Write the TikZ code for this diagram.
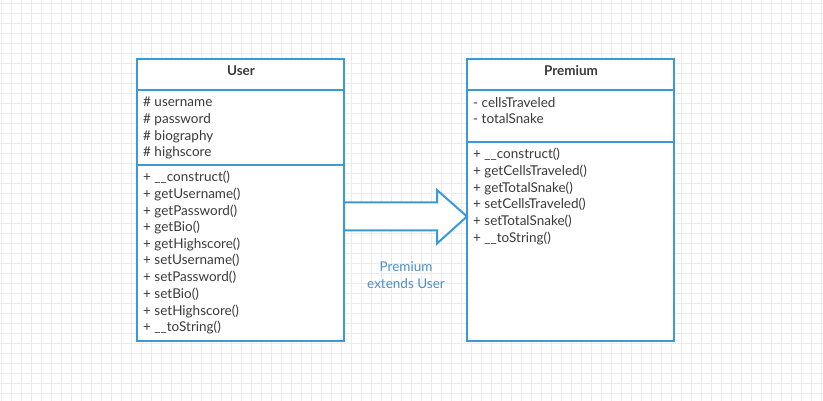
\documentclass[tikz,border=0pt]{standalone}
\usepackage{fontspec}
\setmainfont{Lato}
\definecolor{umlblue}{HTML}{3A9AD9}
\definecolor{lblblue}{HTML}{4A8FC8}
\definecolor{txt}{HTML}{3A3A3A}
\definecolor{gridc}{HTML}{ECECEC}
\tikzset{
  box/.style={draw=umlblue, line width=2pt, fill=white, inner sep=0pt, outer sep=0pt, minimum width=207pt, minimum height=281pt, anchor=north west},
  divider/.style={draw=umlblue, line width=2pt},
  member/.style={anchor=base west, inner sep=0pt, text=txt, font=\fontsize{13.5}{16}\selectfont},
  title/.style={anchor=base, inner sep=0pt, text=txt, font=\fontsize{13.5}{16}\selectfont\bfseries},
  lbl/.style={anchor=base, inner sep=0pt, text=lblblue, font=\fontsize{13.5}{16}\selectfont},
  blockarrow/.style={draw=umlblue, line width=2pt, fill=white, line join=miter}
}
\begin{document}
\begin{tikzpicture}[x=1pt,y=-1pt]
\useasboundingbox (0,0) rectangle (823,401);
\fill[white] (0,0) rectangle (823,401);
% grid
\foreach \gx in {1,11,...,821} \draw[gridc, line width=0.8pt] (\gx,0) -- (\gx,401);
\foreach \gy in {3,13,...,401} \draw[gridc, line width=0.8pt] (0,\gy) -- (823,\gy);

% User class
\node[box] (user) at (137,59.5) {};
\draw[divider] (137,90) coordinate (u1) -- (344,90) coordinate (u1r);
\draw[divider] (137,165) coordinate (u2) -- (344,165) coordinate (u2r);
\node[title] (utitle) at (241,76) {User};
\node[member] (ua1) at (143,107) {\# username};
\node[member] (ua2) at (143,123.7) {\# password};
\node[member] (ua3) at (143,140.3) {\# biography};
\node[member] (ua4) at (143,157) {\# highscore};
\node[member] (um1) at (143,181.7) {+ \_\_construct()};
\node[member] (um2) at (143,198.4) {+ getUsername()};
\node[member] (um3) at (143,215.0) {+ getPassword()};
\node[member] (um4) at (143,231.7) {+ getBio()};
\node[member] (um5) at (143,248.4) {+ getHighscore()};
\node[member] (um6) at (143,265.0) {+ setUsername()};
\node[member] (um7) at (143,281.7) {+ setPassword()};
\node[member] (um8) at (143,298.4) {+ setBio()};
\node[member] (um9) at (143,315.0) {+ setHighscore()};
\node[member] (um10) at (143,331.7) {+ \_\_toString()};

% Premium class
\node[box] (prem) at (467,59.5) {};
\draw[divider] (467,90) coordinate (p1) -- (674,90) coordinate (p1r);
\draw[divider] (467,142) coordinate (p2) -- (674,142) coordinate (p2r);
\node[title] (ptitle) at (571,76) {Premium};
\node[member] (pa1) at (473,107.3) {- cellsTraveled};
\node[member] (pa2) at (473,124) {- totalSnake};
\node[member] (pm1) at (473,159) {+ \_\_construct()};
\node[member] (pm2) at (473,175.7) {+ getCellsTraveled()};
\node[member] (pm3) at (473,192.3) {+ getTotalSnake()};
\node[member] (pm4) at (473,209) {+ setCellsTraveled()};
\node[member] (pm5) at (473,225.7) {+ setTotalSnake()};
\node[member] (pm6) at (473,242.3) {+ \_\_toString()};

% block arrow (generalisation)
\coordinate (a0) at (user.east |- 0,202.5);
\coordinate (a6) at (user.east |- 0,230.5);
\coordinate (tip) at (prem.west |- 0,216.5);
\draw[blockarrow] (a0) -- (437,202.5) -- (437,190) -- (tip) -- (437,243.5) -- (437,230.5) -- (a6) -- cycle;
\draw[divider] (user.north east) -- (user.south east);

\node[lbl] (l1) at (406,271.7) {Premium};
\node[lbl] (l2) at (406,288) {extends User};
\end{tikzpicture}
\end{document}
